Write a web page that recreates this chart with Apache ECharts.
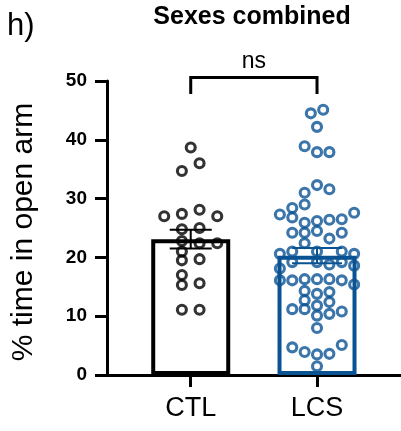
<!DOCTYPE html>
<html>
<head>
<meta charset="utf-8">
<script src="https://cdn.jsdelivr.net/npm/echarts@6/dist/echarts.min.js"></script>
<style>
html,body{margin:0;padding:0;background:#fff;}
#chart{width:401px;height:431px;}
</style>
</head>
<body>
<div id="chart"></div>
<script>
// ---- data ----
const categories = ['CTL', 'LCS'];
const barMeans = [23.1, 20.3];
const barSems = [1.6, 1.3];
const yTickValues = [0, 10, 20, 30, 40, 50];

// CTL individual points: value and horizontal beeswarm slot
const ctlValues = [38.7, 36.0, 34.7, 27.0, 27.4, 28.1, 27.0, 24.8, 25.0, 22.8, 22.4, 22.4,
  21.0, 19.5, 19.7, 17.0, 15.3, 15.6, 11.1, 11.1];
const ctlSlots = [0, 0.5, -0.5, -1.5, -0.5, 0.5, 1.5, -0.5, 0.5, -0.5, 0.5, 1.5,
  -0.5, -0.5, 0.5, -0.5, -0.5, 0.5, -0.5, 0.5];

// LCS individual points
const lcsValues = [44.5, 45.1, 42.2, 38.9, 37.9, 37.9, 32.3, 31.6, 31.0, 29.0, 28.4, 27.3,
  26.8, 25.9, 26.2, 26.4, 26.5, 27.6, 24.2, 24.2, 24.5, 23.2, 24.2, 22.4,
  20.6, 21.0, 21.0, 21.0, 20.6, 19.2, 19.2, 18.8, 19.2, 18.6, 18.1,
  16.1, 16.1, 16.3, 16.3, 16.3, 16.1, 15.4, 14.3, 13.8, 14.1, 12.7, 11.8, 12.4,
  11.2, 11.2, 10.1, 10.4, 10.8, 8.0, 4.7, 3.9, 3.5, 3.6, 5.1, 1.5];
const lcsSlots = [-0.5, 0.5, 0, -1, 0, 1, 0, 1, -1, -1, -2, -3,
  -2, -1, 0, 1, 2, 3, -2, -1, 0, 1, 2, -1,
  -3, -2, 0, 2, 3, -2, 0, 1, 2, 3, -3,
  -3, -2, -1, 0, 1, 2, 3, -1, 0, 1, -1, 0, 1,
  -2, -1, 0, 1, 2, 0, -2, -1, 0, 1, 2, 0];

const colors = ['#000000', '#0a5393'];
const slotStep = [0.14, 0.098];
const FONT = '"Liberation Sans", Arial, Helvetica, sans-serif';

function points(vals, slots, gi) {
  return vals.map((v, i) => [gi + slots[i] * slotStep[gi], v]);
}

const chart = echarts.init(document.getElementById('chart'), null, {renderer: 'canvas'});

const errorData = categories.map((c, i) => [i, barMeans[i], barSems[i]]);

const option = {
  animation: false,
  backgroundColor: '#fff',
  grid: {left: 107, right: 0, top: 81, bottom: 56, containLabel: false},
  xAxis: {
    type: 'value',
    min: -0.663,
    max: 1.665,
    splitLine: {show: false},
    axisLine: {show: true, onZero: false, lineStyle: {color: '#000', width: 3}},
    axisTick: {show: true, customValues: [0, 1], length: 12, lineStyle: {color: '#000', width: 3}},
    axisLabel: {
      show: true, customValues: [0, 1], margin: 20,
      fontFamily: FONT, fontSize: 27, color: '#000',
      formatter: v => categories[Math.round(v)] || ''
    }
  },
  yAxis: {
    type: 'value',
    min: 0, max: 50, interval: 10,
    splitLine: {show: false},
    axisLine: {show: true, onZero: false, lineStyle: {color: '#000', width: 3}},
    axisTick: {show: true, length: 12, lineStyle: {color: '#000', width: 3}},
    axisLabel: {
      margin: 20, fontFamily: FONT, fontSize: 19, fontWeight: 'bold', color: '#000',
      customValues: yTickValues
    }
  },
  graphic: [
    {type: 'text', x: 7, y: 11, style: {text: 'h)', fontFamily: FONT, fontSize: 31, fill: '#000', textAlign: 'left', textVerticalAlign: 'top'}},
    {type: 'text', x: 252, y: 4.7, style: {text: 'Sexes combined', fontFamily: FONT, fontSize: 25, fontWeight: 'bold', fill: '#000', textAlign: 'center', textVerticalAlign: 'top'}},
    {type: 'text', x: 23.5, y: 232, rotation: Math.PI / 2, style: {text: '% time in open arm', fontFamily: FONT, fontSize: 30, fill: '#000', textAlign: 'center', textVerticalAlign: 'middle'}}
  ],
  series: [
    {
      type: 'bar',
      barWidth: 79,
      z: 2,
      data: categories.map((c, i) => ({
        value: [i, barMeans[i]],
        itemStyle: {color: 'rgba(255,255,255,0)', borderColor: colors[i], borderWidth: 4}
      }))
    },
    {
      type: 'scatter',
      z: 3,
      symbol: 'circle',
      symbolSize: 9,
      itemStyle: {color: 'rgba(255,255,255,0)', borderColor: colors[0], borderWidth: 3.1},
      data: points(ctlValues, ctlSlots, 0)
    },
    {
      type: 'scatter',
      z: 3,
      symbol: 'circle',
      symbolSize: 9,
      itemStyle: {color: 'rgba(255,255,255,0)', borderColor: colors[1], borderWidth: 3.1},
      data: points(lcsValues, lcsSlots, 1)
    },
    {
      type: 'custom',
      z: 4,
      clip: false,
      data: errorData,
      renderItem: function (params, api) {
        const x = api.value(0), m = api.value(1), s = api.value(2);
        const hi = api.coord([x, m + s]);
        const lo = api.coord([x, m - s]);
        const half = params.dataIndex === 0 ? 21 : 25;
        const st = {stroke: colors[params.dataIndex], lineWidth: 2};
        return {
          type: 'group',
          children: [
            {type: 'line', shape: {x1: hi[0], y1: hi[1], x2: lo[0], y2: lo[1]}, style: st},
            {type: 'line', shape: {x1: hi[0] - half, y1: hi[1], x2: hi[0] + half, y2: hi[1]}, style: st},
            {type: 'line', shape: {x1: lo[0] - half, y1: lo[1], x2: lo[0] + half, y2: lo[1]}, style: st}
          ]
        };
      }
    },
    {
      type: 'custom',
      z: 5,
      clip: false,
      data: [[0, 1]],
      renderItem: function (params, api) {
        const a = api.value(0), b = api.value(1);
        const top = 50.6, leg = 47.8;
        const p1 = api.coord([a, leg]);
        const p2 = api.coord([a, top]);
        const p3 = api.coord([b, top]);
        const p4 = api.coord([b, leg]);
        return {
          type: 'group',
          children: [
            {type: 'polyline', shape: {points: [p1, p2, p3, p4]}, style: {stroke: '#000', lineWidth: 3, fill: null, lineJoin: 'miter'}},
            {type: 'text', x: (p2[0] + p3[0]) / 2, y: p2[1] - 27.5, style: {text: 'ns', fontFamily: FONT, fontSize: 23, fill: '#000', textAlign: 'center', textVerticalAlign: 'top'}}
          ]
        };
      }
    }
  ]
};
chart.setOption(option);
</script>
</body>
</html>
